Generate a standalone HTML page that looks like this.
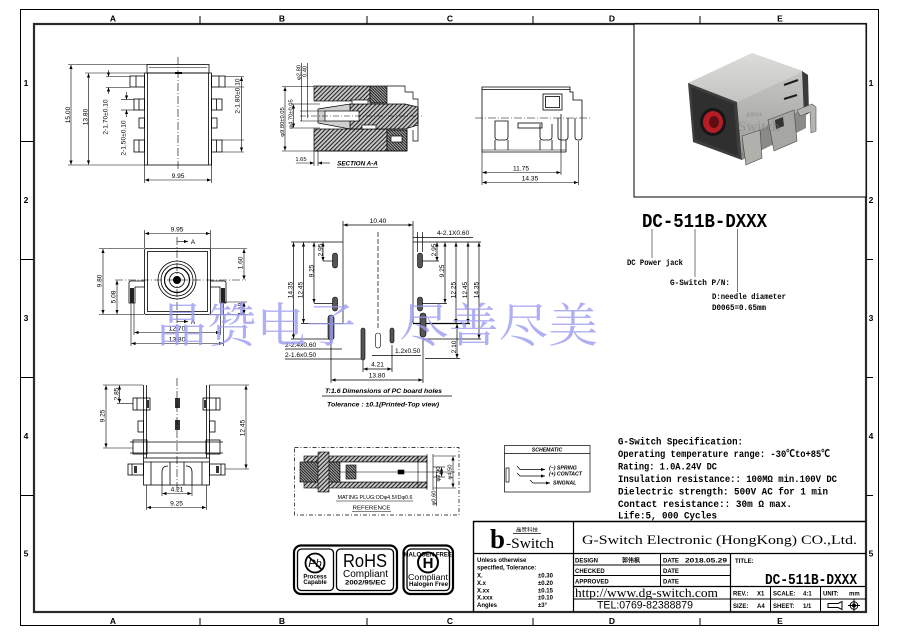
<!DOCTYPE html>
<html><head><meta charset="utf-8">
<style>
html,body{margin:0;padding:0;background:#fff;width:900px;height:636px;overflow:hidden}
svg{display:block}
.d{font-family:"Liberation Sans",sans-serif;font-size:6.6px;fill:#000}
.t{font-family:"Liberation Sans",sans-serif;font-size:5.8px;fill:#000}
.s{font-family:"Liberation Sans",sans-serif;font-size:6px;fill:#000;font-weight:bold}
.m{font-family:"Liberation Mono","Noto Sans CJK SC",monospace;font-weight:bold;fill:#000}
.b{font-family:"Liberation Sans",sans-serif;font-weight:bold;font-size:8.5px;fill:#000}
.i{font-family:"Liberation Sans",sans-serif;font-style:italic;font-weight:bold;fill:#000}
.w{font-family:"Noto Serif CJK SC","Noto Sans CJK SC",serif;font-size:47px;fill:#9c9cf2}
</style></head><body>
<svg width="900" height="636" viewBox="0 0 900 636" xmlns="http://www.w3.org/2000/svg">
<defs>
<marker id="ar" viewBox="0 0 10 10" refX="10" refY="5" markerWidth="5" markerHeight="4" orient="auto-start-reverse" markerUnits="userSpaceOnUse"><path d="M0,1 L10,5 L0,9z" fill="#000"/></marker>
<pattern id="h1" width="3" height="3" patternUnits="userSpaceOnUse" patternTransform="rotate(45)"><rect width="3" height="3" fill="#c8c8c8"/><line x1="0.5" y1="0" x2="0.5" y2="3" stroke="#222" stroke-width="1.1"/></pattern>
<pattern id="h2" width="2" height="2" patternUnits="userSpaceOnUse" patternTransform="rotate(-45)"><rect width="2" height="2" fill="#aaa"/><line x1="0.5" y1="0" x2="0.5" y2="2" stroke="#111" stroke-width="0.9"/></pattern>
<linearGradient id="gt" x1="0" y1="0" x2="0" y2="1"><stop offset="0" stop-color="#dcdcd8"/><stop offset="1" stop-color="#c4c4c0"/></linearGradient>
<linearGradient id="gr" x1="0" y1="0" x2="0" y2="1"><stop offset="0" stop-color="#c6c6c2"/><stop offset="1" stop-color="#9c9c98"/></linearGradient>
</defs>

<!-- ===== BORDER ===== -->
<rect x="20.5" y="9.5" width="858" height="616" fill="none" stroke="#000" stroke-width="1"/>
<rect x="34" y="24" width="832" height="588" fill="none" stroke="#2a2a2a" stroke-width="2.2"/>
<g stroke="#000" stroke-width="1">
<line x1="200" y1="16" x2="200" y2="24"/><line x1="367" y1="16" x2="367" y2="24"/><line x1="533" y1="16" x2="533" y2="24"/><line x1="700" y1="16" x2="700" y2="24"/>
<line x1="200" y1="618" x2="200" y2="626"/><line x1="367" y1="618" x2="367" y2="626"/><line x1="533" y1="618" x2="533" y2="626"/><line x1="700" y1="618" x2="700" y2="626"/>
<line x1="20" y1="141.5" x2="34" y2="141.5"/><line x1="20" y1="259.5" x2="34" y2="259.5"/><line x1="20" y1="377.5" x2="34" y2="377.5"/><line x1="20" y1="495.5" x2="34" y2="495.5"/>
<line x1="866" y1="141.5" x2="873" y2="141.5"/><line x1="866" y1="259.5" x2="873" y2="259.5"/><line x1="866" y1="377.5" x2="873" y2="377.5"/><line x1="866" y1="495.5" x2="873" y2="495.5"/>
</g>
<g class="b" text-anchor="middle">
<text x="113" y="21.5">A</text><text x="282" y="21.5">B</text><text x="450" y="21.5">C</text><text x="612" y="21.5">D</text><text x="780" y="21.5">E</text>
<text x="113" y="624">A</text><text x="282" y="624">B</text><text x="450" y="624">C</text><text x="612" y="624">D</text><text x="780" y="624">E</text>
<text x="26" y="86">1</text><text x="26" y="203">2</text><text x="26" y="321">3</text><text x="26" y="439">4</text><text x="26" y="556.5">5</text>
<text x="871" y="86">1</text><text x="871" y="203">2</text><text x="871" y="321">3</text><text x="871" y="439">4</text><text x="871" y="556.5">5</text>
</g>

<!-- ===== TOP-LEFT VIEW ===== -->
<g fill="none" stroke="#000" stroke-width="0.8">
<rect x="147" y="64.5" width="62" height="8.5"/>
<line x1="149" y1="67.5" x2="207" y2="67.5" stroke-width="0.5"/>
<rect x="144.5" y="73" width="67" height="92"/>
<line x1="147.5" y1="73" x2="147.5" y2="165"/>
<line x1="208.5" y1="73" x2="208.5" y2="165"/>
<rect x="130" y="76" width="14.5" height="11"/><line x1="136" y1="76" x2="136" y2="87"/>
<rect x="134" y="99" width="10.5" height="11"/><line x1="139" y1="99" x2="139" y2="110"/>
<rect x="139" y="118" width="5.5" height="10"/>
<rect x="134" y="140" width="10.5" height="12"/><line x1="139" y1="140" x2="139" y2="152"/>
<rect x="211.5" y="76" width="13.5" height="11"/><line x1="219" y1="76" x2="219" y2="87"/>
<rect x="211.5" y="99" width="10.5" height="11"/><line x1="216.5" y1="99" x2="216.5" y2="110"/>
<rect x="211.5" y="118" width="5.5" height="10"/>
<rect x="211.5" y="140" width="10.5" height="12"/><line x1="216.5" y1="140" x2="216.5" y2="152"/>
</g>
<rect x="175" y="72" width="7" height="2" fill="#000"/>
<line x1="178" y1="57" x2="178" y2="170" stroke="#000" stroke-width="0.6" stroke-dasharray="8 2 1 2"/>
<g stroke="#000" stroke-width="0.6" fill="none">
<line x1="68" y1="64.5" x2="147" y2="64.5"/>
<line x1="68" y1="165" x2="144" y2="165"/>
<line x1="71" y1="65" x2="71" y2="164.5" marker-start="url(#ar)" marker-end="url(#ar)"/>
<line x1="85" y1="73" x2="144" y2="73"/>
<line x1="88.5" y1="73.5" x2="88.5" y2="164.5" marker-start="url(#ar)" marker-end="url(#ar)"/>
<line x1="106" y1="76.5" x2="130" y2="76.5"/>
<line x1="106" y1="87.5" x2="130" y2="87.5"/>
<line x1="108.5" y1="70" x2="108.5" y2="76.5" marker-end="url(#ar)"/>
<line x1="108.5" y1="94" x2="108.5" y2="87.5" marker-end="url(#ar)"/>
<line x1="121" y1="99.5" x2="134" y2="99.5"/>
<line x1="121" y1="110" x2="134" y2="110"/>
<line x1="126.5" y1="92" x2="126.5" y2="99.5" marker-end="url(#ar)"/>
<line x1="126.5" y1="117" x2="126.5" y2="110" marker-end="url(#ar)"/>
<line x1="225" y1="76.5" x2="244" y2="76.5"/>
<line x1="225" y1="87" x2="244" y2="87"/>
<line x1="222" y1="140" x2="244" y2="140"/>
<line x1="222" y1="152" x2="244" y2="152"/>
<line x1="241.5" y1="77" x2="241.5" y2="151.5" marker-start="url(#ar)" marker-end="url(#ar)"/>
<line x1="144.5" y1="165" x2="144.5" y2="183"/>
<line x1="211.5" y1="152" x2="211.5" y2="183"/>
<line x1="145" y1="180" x2="211" y2="180" marker-start="url(#ar)" marker-end="url(#ar)"/>
</g>
<g class="d" text-anchor="middle">
<text transform="translate(70,115) rotate(-90)">15.00</text>
<text transform="translate(87.5,117) rotate(-90)">13.80</text>
<text transform="translate(107.5,117) rotate(-90)">2-1.70±0.10</text>
<text transform="translate(125.5,138) rotate(-90)">2-1.50±0.10</text>
<text transform="translate(239.5,96) rotate(-90)">2-1.80±0.10</text>
<text x="178" y="178">9.95</text>
</g>

<!-- ===== SECTION A-A ===== -->
<g stroke="#000" stroke-width="0.7">
<rect x="314" y="86" width="56" height="15" fill="url(#h1)"/>
<rect x="370" y="86" width="17" height="17" fill="url(#h2)"/>
<path d="M387,86 L405,86 L405,92" fill="none"/>
<rect x="314" y="129" width="73" height="22" fill="url(#h1)"/>
<rect x="387" y="130" width="20" height="21" fill="url(#h2)"/>
<rect x="391" y="136" width="11" height="6" fill="#fff"/>
<polygon points="350,104 405,104 418,107 418,125 405,129 350,129" fill="url(#h1)"/>
<polygon points="318,109 350,104 350,129 318,123" fill="#d0d0d0"/>
<rect x="325" y="111" width="34" height="10" fill="#fff"/>
<rect x="352" y="100" width="16" height="4" fill="#fff"/>
<rect x="362" y="125" width="14" height="4" fill="#fff"/>
<path d="M405,92 L413,92 L413,99 L418,99 L418,141 L413,141 L413,130" fill="none"/>
<line x1="314" y1="151" x2="407" y2="151"/>
<line x1="407" y1="129" x2="407" y2="151"/>
</g>
<line x1="300" y1="116" x2="422" y2="116" stroke="#000" stroke-width="0.5" stroke-dasharray="6 2 1 2"/>
<g stroke="#000" stroke-width="0.6" fill="none">
<line x1="282" y1="86.5" x2="314" y2="86.5"/>
<line x1="282" y1="151" x2="314" y2="151"/>
<line x1="285" y1="87" x2="285" y2="150.5" marker-start="url(#ar)" marker-end="url(#ar)"/>
<line x1="291" y1="104" x2="320" y2="104"/>
<line x1="291" y1="128" x2="320" y2="128"/>
<line x1="293.5" y1="104.5" x2="293.5" y2="127.5" marker-start="url(#ar)" marker-end="url(#ar)"/>
<line x1="301.5" y1="63" x2="301.5" y2="121"/>
<line x1="307.5" y1="63" x2="307.5" y2="118"/>
<line x1="300" y1="111" x2="326" y2="111"/>
<line x1="300" y1="121" x2="326" y2="121"/>
<line x1="314" y1="151" x2="314" y2="166"/>
<line x1="318" y1="151" x2="318" y2="166"/>
<line x1="296" y1="163" x2="314" y2="163" marker-end="url(#ar)"/>
<line x1="330" y1="163" x2="318" y2="163" marker-end="url(#ar)"/>
<line x1="337" y1="167.5" x2="378" y2="167.5"/>
</g>
<g class="t" text-anchor="middle">
<text transform="translate(284,122) rotate(-90)">φ9.80±0.05</text>
<text transform="translate(292.5,114) rotate(-90)">φ4.70±0.05</text>
<text transform="translate(300.5,72.5) rotate(-90)">φ2.80</text>
<text transform="translate(306.5,71.5) rotate(-90)">0.40</text>
<text x="301" y="161">1.65</text>
</g>
<text class="i" x="357.5" y="165.5" font-size="6.3" text-anchor="middle">SECTION A-A</text>

<!-- ===== RIGHT SIDE VIEW ===== -->
<g fill="none" stroke="#000" stroke-width="0.8">
<path d="M482,152 L482,87 L570,87 L570,92 L573,92 L573,100 L582,100 L582,118"/>
<line x1="482" y1="89.5" x2="570" y2="89.5"/>
<line x1="482" y1="152" x2="566" y2="152"/>
<line x1="482" y1="150" x2="566" y2="150" stroke-width="0.5"/>
<rect x="543" y="94" width="19" height="16"/>
<rect x="545.5" y="96.5" width="14" height="11"/>
<path d="M495,121 L495,137 Q495,140 498,140 L505,140 Q508,140 508,137 L508,121 Z"/>
<path d="M540,124 L540,137 Q540,140 543,140 L549,140 Q552,140 552,137 L552,124"/>
<path d="M558,118 L558,137 Q558,140 561,140 L565,140 Q568,140 568,137 L568,118"/>
<path d="M575,118 L575,137 Q575,140 578,140 L579,140 Q582,140 582,137 L582,118"/>
<rect x="518" y="123" width="24" height="5"/>
<line x1="561" y1="114" x2="561" y2="152"/>
<line x1="495" y1="140" x2="495" y2="150"/><line x1="508" y1="140" x2="508" y2="150"/>
<line x1="540" y1="140" x2="540" y2="150"/><line x1="552" y1="140" x2="552" y2="150"/>
<line x1="566" y1="140" x2="566" y2="152"/>
</g>
<line x1="475" y1="118" x2="590" y2="118" stroke="#000" stroke-width="0.6" stroke-dasharray="8 2 1 2"/>
<g stroke="#000" stroke-width="0.6" fill="none">
<line x1="482" y1="152" x2="482" y2="185"/>
<line x1="561" y1="152" x2="561" y2="175"/>
<line x1="578.5" y1="141" x2="578.5" y2="185"/>
<line x1="482.5" y1="172.5" x2="560.5" y2="172.5" marker-start="url(#ar)" marker-end="url(#ar)"/>
<line x1="482.5" y1="182.5" x2="578" y2="182.5" marker-start="url(#ar)" marker-end="url(#ar)"/>
</g>
<g class="d" text-anchor="middle"><text x="521" y="170.5">11.75</text><text x="530" y="180.5">14.35</text></g>

<!-- ===== PHOTO BOX ===== -->
<rect x="634" y="24" width="232" height="173" fill="#fff" stroke="#000" stroke-width="1"/>
<g>
<polygon points="688,83 752,53 803,71 737,102" fill="url(#gt)"/>
<polygon points="737,102 803,71 806,128 742,160" fill="url(#gr)"/>
<polygon points="688,83 737,102 742,160 693,142" fill="#3e3e3e"/>
<polygon points="691,87 734,104 738,156 695,139" fill="#2f2f2f"/>
<ellipse cx="713" cy="122" rx="13" ry="14" fill="#161616"/>
<ellipse cx="713" cy="122" rx="10" ry="11" fill="#b61c26"/>
<ellipse cx="714" cy="122" rx="5" ry="6" fill="#5c0e12"/>
<line x1="784" y1="85" x2="798" y2="80" stroke="#1e1e1e" stroke-width="2.2"/>
<line x1="784" y1="99" x2="797" y2="95" stroke="#1e1e1e" stroke-width="2.2"/>
<polygon points="802,71 808,75 809,113 804,116" fill="#3a3a3a"/>
<polygon points="742,138 806,108 806,128 742,160" fill="#8a8a86"/>
<path d="M797,110 L812,104 L816,107 L816,131 L811,133 L810,112 L800,116z" fill="#b4b4b0" stroke="#555" stroke-width="0.6"/>
<polygon points="768,120 794,110 797,141 774,151" fill="#a6a6a2" stroke="#444" stroke-width="0.6"/>
<polygon points="775,120 783,117 784,126 776,129" fill="#333"/>
<polygon points="742,136 760,130 762,158 746,165" fill="#b0b0ac" stroke="#444" stroke-width="0.6"/>
<text x="738" y="131" font-family="Liberation Serif" font-size="15" fill="#777" opacity="0.45">Switch</text>
<text x="746" y="116" font-family="Noto Sans CJK SC" font-size="4" fill="#777" opacity="0.6">晶赞科技</text>
</g>

<!-- ===== PART NUMBER ===== -->
<text class="m" x="642" y="227" font-size="19" textLength="125" lengthAdjust="spacingAndGlyphs">DC-511B-DXXX</text>
<g stroke="#555" stroke-width="0.8">
<line x1="652" y1="229" x2="652" y2="258"/>
<line x1="695" y1="229" x2="695" y2="277"/>
<line x1="737.5" y1="229" x2="737.5" y2="292"/>
</g>
<g class="m" font-size="8">
<text x="627" y="265" textLength="56" lengthAdjust="spacingAndGlyphs">DC Power jack</text>
<text x="670" y="285" textLength="60" lengthAdjust="spacingAndGlyphs">G-Switch P/N:</text>
<text x="712" y="299" textLength="74" lengthAdjust="spacingAndGlyphs">D:needle diameter</text>
<text x="712" y="310" textLength="54" lengthAdjust="spacingAndGlyphs">D0065=0.65mm</text>
</g>

<!-- ===== FRONT VIEW ===== -->
<g fill="none" stroke="#000" stroke-width="0.8">
<rect x="144.5" y="248.5" width="66" height="66" rx="1.5"/>
<rect x="147.5" y="251.5" width="60" height="60"/>
<circle cx="177" cy="280" r="19"/>
<circle cx="177" cy="280" r="16"/>
<circle cx="177" cy="280" r="12.5" stroke-width="1.2"/>
<circle cx="177" cy="280" r="7.5"/>
<path d="M145,281 L131,281 Q129,281 129,283 L129,303 L135,303 L135,287 L145,287"/>
<path d="M210,281 L224,281 Q226,281 226,283 L226,303 L220,303 L220,287 L210,287"/>
</g>
<circle cx="177" cy="280" r="4" fill="#000"/>
<rect x="130" y="288" width="4" height="15" fill="#222"/>
<rect x="221" y="288" width="4" height="15" fill="#222"/>
<g stroke="#000" stroke-width="0.6" fill="none">
<line x1="115" y1="280" x2="246" y2="280" stroke-dasharray="8 2 1 2"/>
<line x1="177" y1="237" x2="177" y2="326" stroke-dasharray="8 2 1 2"/>
<line x1="177" y1="241.5" x2="188" y2="241.5" marker-end="url(#ar)"/>
<line x1="177" y1="321.5" x2="188" y2="321.5" marker-end="url(#ar)"/>
<line x1="144.5" y1="230" x2="144.5" y2="248"/>
<line x1="210.5" y1="230" x2="210.5" y2="248"/>
<line x1="145" y1="233.5" x2="210" y2="233.5" marker-start="url(#ar)" marker-end="url(#ar)"/>
<line x1="99" y1="248.5" x2="144" y2="248.5"/>
<line x1="99" y1="314.5" x2="144" y2="314.5"/>
<line x1="103" y1="249" x2="103" y2="314" marker-start="url(#ar)" marker-end="url(#ar)"/>
<line x1="117" y1="280.5" x2="117" y2="314" marker-start="url(#ar)" marker-end="url(#ar)"/>
<line x1="210" y1="248.5" x2="247" y2="248.5"/>
<line x1="224" y1="302" x2="247" y2="302"/>
<line x1="210" y1="314.5" x2="247" y2="314.5"/>
<line x1="244" y1="249" x2="244" y2="279.5" marker-start="url(#ar)" marker-end="url(#ar)"/>
<line x1="244" y1="302.5" x2="244" y2="314" marker-start="url(#ar)" marker-end="url(#ar)"/>
<line x1="134" y1="303" x2="134" y2="335"/>
<line x1="220.5" y1="303" x2="220.5" y2="335"/>
<line x1="131" y1="303" x2="131" y2="346"/>
<line x1="223.5" y1="303" x2="223.5" y2="346"/>
<line x1="134.5" y1="332.5" x2="220" y2="332.5" marker-start="url(#ar)" marker-end="url(#ar)"/>
<line x1="131.5" y1="343.5" x2="223" y2="343.5" marker-start="url(#ar)" marker-end="url(#ar)"/>
</g>
<g class="d" text-anchor="middle">
<text x="177" y="231.5">9.95</text>
<text x="193" y="244">A</text>
<text x="193" y="324">A</text>
<text transform="translate(101.5,281) rotate(-90)">9.80</text>
<text transform="translate(115.5,297) rotate(-90)">5.08</text>
<text transform="translate(242.5,263) rotate(-90)">1.60</text>
<text transform="translate(242.5,309) rotate(-90)">1.18</text>
<text x="177" y="330.5">12.70</text>
<text x="177" y="341.5">13.80</text>
</g>

<!-- ===== PCB LAYOUT ===== -->
<g fill="none" stroke="#000" stroke-width="0.7">
<line x1="343" y1="221" x2="343" y2="323"/>
<line x1="413" y1="221" x2="413" y2="323"/>
<line x1="291" y1="242" x2="343" y2="242"/>
<line x1="413" y1="242" x2="481" y2="242"/>
<line x1="301" y1="323.5" x2="343" y2="323.5"/>
<line x1="413" y1="323.5" x2="470" y2="323.5" stroke-width="1.2"/>
<line x1="343.5" y1="225" x2="412.5" y2="225" marker-start="url(#ar)" marker-end="url(#ar)"/>
<line x1="378" y1="232" x2="378" y2="330" stroke-dasharray="5 2"/>
<line x1="413" y1="237.5" x2="473" y2="237.5"/>
<line x1="417.5" y1="232" x2="417.5" y2="252"/>
<line x1="422.5" y1="232" x2="422.5" y2="252"/>
<line x1="293.5" y1="242.5" x2="293.5" y2="338.5" marker-start="url(#ar)" marker-end="url(#ar)"/>
<line x1="291" y1="339" x2="331" y2="339"/>
<line x1="303.5" y1="242.5" x2="303.5" y2="323" marker-start="url(#ar)" marker-end="url(#ar)"/>
<line x1="314" y1="242.5" x2="314" y2="303" marker-start="url(#ar)" marker-end="url(#ar)"/>
<line x1="314" y1="303.5" x2="338" y2="303.5"/>
<line x1="323" y1="242.5" x2="323" y2="261" marker-start="url(#ar)" marker-end="url(#ar)"/>
<line x1="323" y1="261" x2="338" y2="261"/>
<line x1="418" y1="261" x2="439" y2="261"/>
<line x1="437" y1="242.5" x2="437" y2="261" marker-start="url(#ar)" marker-end="url(#ar)"/>
<line x1="418" y1="303.5" x2="447" y2="303.5"/>
<line x1="445" y1="242.5" x2="445" y2="303" marker-start="url(#ar)" marker-end="url(#ar)"/>
<line x1="456" y1="242.5" x2="456" y2="323" marker-start="url(#ar)" marker-end="url(#ar)"/>
<line x1="468" y1="242.5" x2="468" y2="323" marker-start="url(#ar)" marker-end="url(#ar)"/>
<line x1="423" y1="339" x2="481" y2="339"/>
<line x1="479" y1="242.5" x2="479" y2="338.5" marker-start="url(#ar)" marker-end="url(#ar)"/>
<line x1="285" y1="349" x2="342" y2="349"/>
<line x1="285" y1="359" x2="361" y2="359"/>
<line x1="372" y1="355.5" x2="421" y2="355.5"/>
<line x1="457" y1="324" x2="457" y2="358" marker-start="url(#ar)" marker-end="url(#ar)"/>
<line x1="425" y1="358.5" x2="460" y2="358.5"/>
<line x1="363" y1="345" x2="363" y2="372"/>
<line x1="392" y1="345" x2="392" y2="372"/>
<line x1="363.5" y1="369" x2="391.5" y2="369" marker-start="url(#ar)" marker-end="url(#ar)"/>
<line x1="331" y1="340" x2="331" y2="383"/>
<line x1="423" y1="338" x2="423" y2="383"/>
<line x1="331.5" y1="380" x2="422.5" y2="380" marker-start="url(#ar)" marker-end="url(#ar)"/>
</g>
<g fill="#555" stroke="#000" stroke-width="0.6">
<rect x="332.5" y="253" width="5" height="15" rx="2.5"/>
<rect x="332.5" y="297" width="5" height="14" rx="2.5"/>
<rect x="417.5" y="253" width="5" height="15" rx="2.5"/>
<rect x="417.5" y="297" width="5" height="14" rx="2.5"/>
<rect x="328" y="315" width="6" height="25" rx="3"/>
<rect x="420" y="313" width="6" height="24" rx="3"/>
<rect x="361" y="328" width="4" height="32" rx="2"/>
<rect x="375.5" y="333" width="5" height="15" rx="2.5" fill="#fff"/>
<rect x="390" y="328" width="4" height="15" rx="2"/>
</g>
<g class="d" text-anchor="middle">
<text x="378" y="223">10.40</text>
<text transform="translate(292.5,290) rotate(-90)">14.35</text>
<text transform="translate(302.5,290) rotate(-90)">12.45</text>
<text transform="translate(313.5,271) rotate(-90)">9.25</text>
<text transform="translate(322.5,250) rotate(-90)">2.95</text>
<text transform="translate(436,250) rotate(-90)">2.95</text>
<text transform="translate(444,271) rotate(-90)">9.25</text>
<text transform="translate(455.5,290) rotate(-90)">12.25</text>
<text transform="translate(467,290) rotate(-90)">12.45</text>
<text transform="translate(478.5,290) rotate(-90)">14.35</text>
<text transform="translate(456,347) rotate(-90)">2.10</text>
<text x="377.5" y="366.5">4.21</text>
<text x="377" y="377.5">13.80</text>
</g>
<g class="d">
<text x="437" y="235">4-2.1X0.60</text>
<text x="285" y="347">2-2.4x0.60</text>
<text x="285" y="357">2-1.6x0.50</text>
<text x="395" y="353">1.2x0.50</text>
</g>
<text class="i" x="325" y="393" font-size="6.4" textLength="117" lengthAdjust="spacingAndGlyphs">T:1.6 Dimensions of PC board holes</text>
<line x1="322" y1="396" x2="452" y2="396" stroke="#000" stroke-width="0.8"/>
<text class="i" x="327" y="406.5" font-size="6.4" textLength="112" lengthAdjust="spacingAndGlyphs">Tolerance : ±0.1(Printed-Top view)</text>

<!-- ===== BOTTOM VIEW ===== -->
<g fill="none" stroke="#000" stroke-width="0.8">
<line x1="143.5" y1="385" x2="143.5" y2="458"/>
<line x1="146.5" y1="385" x2="146.5" y2="458"/>
<line x1="206.5" y1="385" x2="206.5" y2="458"/>
<line x1="209.5" y1="385" x2="209.5" y2="458"/>
<rect x="133" y="398" width="17" height="12"/>
<rect x="203" y="398" width="17" height="12"/>
<line x1="137" y1="398" x2="137" y2="410"/><line x1="216" y1="398" x2="216" y2="410"/>
<rect x="138" y="421" width="5.5" height="11"/>
<rect x="209.5" y="421" width="5.5" height="11"/>
<line x1="130" y1="442" x2="223" y2="442"/>
<line x1="130" y1="453" x2="223" y2="453"/>
<rect x="133" y="440" width="14" height="14"/>
<rect x="206" y="440" width="14" height="14"/>
<rect x="143.5" y="458" width="66" height="27"/>
<line x1="143.5" y1="462" x2="209.5" y2="462"/>
<rect x="128" y="464" width="15.5" height="11"/>
<rect x="209.5" y="464" width="15.5" height="11"/>
<line x1="132" y1="464" x2="132" y2="475"/><line x1="221" y1="464" x2="221" y2="475"/>
<line x1="151" y1="462" x2="151" y2="485"/>
<line x1="202" y1="462" x2="202" y2="485"/>
<path d="M162,485 L162,472 Q162,466 168,466"/>
<path d="M192,485 L192,472 Q192,466 186,466"/>
<line x1="170" y1="462" x2="170" y2="485"/>
<line x1="184" y1="462" x2="184" y2="485"/>
</g>
<g fill="#333">
<rect x="175" y="398" width="5" height="10"/>
<rect x="175" y="420" width="5" height="10"/>
<rect x="146" y="400" width="3" height="8"/>
<rect x="204" y="400" width="3" height="8"/>
<rect x="134" y="466" width="3" height="7"/>
<rect x="216" y="466" width="3" height="7"/>
</g>
<line x1="177" y1="378" x2="177" y2="490" stroke="#000" stroke-width="0.6" stroke-dasharray="8 2 1 2"/>
<g stroke="#000" stroke-width="0.6" fill="none">
<line x1="103" y1="385" x2="143" y2="385"/>
<line x1="103" y1="448" x2="133" y2="448"/>
<line x1="106" y1="385.5" x2="106" y2="447.5" marker-start="url(#ar)" marker-end="url(#ar)"/>
<line x1="117" y1="403.5" x2="133" y2="403.5"/>
<line x1="119.5" y1="385.5" x2="119.5" y2="403" marker-start="url(#ar)" marker-end="url(#ar)"/>
<line x1="209" y1="385" x2="249" y2="385"/>
<line x1="225" y1="469" x2="249" y2="469"/>
<line x1="246" y1="385.5" x2="246" y2="468.5" marker-start="url(#ar)" marker-end="url(#ar)"/>
<line x1="162" y1="485" x2="162" y2="496"/>
<line x1="192" y1="485" x2="192" y2="496"/>
<line x1="162.5" y1="493.5" x2="191.5" y2="493.5" marker-start="url(#ar)" marker-end="url(#ar)"/>
<line x1="146.5" y1="485" x2="146.5" y2="510"/>
<line x1="206.5" y1="485" x2="206.5" y2="510"/>
<line x1="147" y1="507.5" x2="206" y2="507.5" marker-start="url(#ar)" marker-end="url(#ar)"/>
</g>
<g class="d" text-anchor="middle">
<text transform="translate(118.5,394) rotate(-90)">2.85</text>
<text transform="translate(104.5,416) rotate(-90)">9.25</text>
<text transform="translate(244.5,428) rotate(-90)">12.45</text>
<text x="177" y="491.5">4.21</text>
<text x="176.5" y="505.5">9.25</text>
</g>

<!-- ===== MATING PLUG ===== -->
<rect x="294.5" y="447.5" width="164.5" height="67.5" fill="none" stroke="#000" stroke-width="0.7" stroke-dasharray="4 2 1 2"/>
<g stroke="#000" stroke-width="0.6">
<rect x="304" y="456" width="123" height="6" fill="url(#h1)"/>
<rect x="304" y="482" width="123" height="6" fill="url(#h1)"/>
<rect x="300" y="462" width="40" height="20" fill="url(#h2)"/>
<rect x="318" y="452" width="11" height="40" fill="url(#h1)"/>
<rect x="340" y="462" width="87" height="20" fill="#fff"/>
<rect x="346" y="465" width="10" height="14" fill="url(#h2)"/>
<line x1="340" y1="472" x2="455" y2="472"/>
<rect x="398" y="470" width="6" height="4" fill="#000"/>
<line x1="418" y1="456" x2="418" y2="488" fill="none"/>
<line x1="427" y1="454" x2="427" y2="490" fill="none"/>
<line x1="433" y1="454" x2="433" y2="490" fill="none"/>
</g>
<g stroke="#000" stroke-width="0.6" fill="none">
<line x1="433" y1="467" x2="445" y2="467"/>
<line x1="433" y1="477" x2="445" y2="477"/>
<line x1="433" y1="456" x2="456" y2="456"/>
<line x1="433" y1="488" x2="456" y2="488"/>
<line x1="441.5" y1="467.5" x2="441.5" y2="476.5" marker-start="url(#ar)" marker-end="url(#ar)"/>
<line x1="453" y1="456.5" x2="453" y2="487.5" marker-start="url(#ar)" marker-end="url(#ar)"/>
<line x1="436.5" y1="472" x2="436.5" y2="506"/>
<line x1="336" y1="501" x2="413" y2="501"/>
<line x1="352" y1="511.5" x2="391" y2="511.5"/>
</g>
<g class="t" text-anchor="middle">
<text transform="translate(440,474) rotate(-90)">φ2.90</text>
<text transform="translate(451.5,472) rotate(-90)">φ4.50</text>
<text transform="translate(435.5,498) rotate(-90)">φ0.60</text>
<text x="375" y="499" font-size="5.4" textLength="75" lengthAdjust="spacingAndGlyphs">MATING PLUG:ODφ4.5/IDφ0.6</text>
<text x="371.5" y="509.5" font-size="5.4" textLength="38" lengthAdjust="spacingAndGlyphs">REFERENCE</text>
</g>

<!-- ===== SCHEMATIC ===== -->
<g fill="none" stroke="#000" stroke-width="0.7">
<rect x="504.5" y="445.5" width="85.5" height="46.5"/>
<line x1="504.5" y1="453.5" x2="590" y2="453.5"/>
<rect x="506" y="468" width="3" height="14"/>
<path d="M517,466 L520,469.5 L545,469.5" marker-end="url(#ar)"/>
<path d="M517,473 L520,476 L545,476" marker-end="url(#ar)"/>
<path d="M530,480 L533,483 L550,483" marker-end="url(#ar)"/>
</g>
<g class="i" font-size="5.2">
<text x="547" y="451.5" text-anchor="middle">SCHEMATIC</text>
<text x="549" y="469.5">(−) SPRING</text>
<text x="549" y="475.5">(+) CONTACT</text>
<text x="553" y="484.5">SINGNAL</text>
</g>

<!-- ===== SPEC TEXT ===== -->
<g class="m" font-size="10.2">
<text x="618" y="444.5" textLength="125" lengthAdjust="spacingAndGlyphs">G-Switch Specification:</text>
<text x="618" y="457" textLength="212" lengthAdjust="spacingAndGlyphs">Operating temperature range: -30℃to+85℃</text>
<text x="618" y="469.5" textLength="99" lengthAdjust="spacingAndGlyphs">Rating: 1.0A.24V DC</text>
<text x="618" y="482" textLength="219" lengthAdjust="spacingAndGlyphs">Insulation resistance:: 100MΩ min.100V DC</text>
<text x="618" y="494.5" textLength="210" lengthAdjust="spacingAndGlyphs">Dielectric strength:  500V AC for 1 min</text>
<text x="618" y="507" textLength="174" lengthAdjust="spacingAndGlyphs">Contact resistance:: 30m Ω max.</text>
<text x="618" y="518.5" textLength="99" lengthAdjust="spacingAndGlyphs">Life:5, 000 Cycles</text>
</g>

<!-- ===== LOGOS ===== -->
<g fill="none" stroke="#000">
<rect x="294" y="545.5" width="103" height="48.5" rx="7" stroke-width="2.2"/>
<rect x="297.5" y="549" width="36" height="41.5" rx="4" stroke-width="1.3"/>
<rect x="336.5" y="549" width="57" height="41.5" rx="4" stroke-width="1.3"/>
<circle cx="315" cy="563" r="9.5" stroke-width="1.8"/>
<line x1="308.5" y1="556.5" x2="321.5" y2="569.5" stroke-width="1.6"/>
<rect x="403.5" y="545.5" width="49.5" height="48.5" rx="7" stroke-width="2.2"/>
<rect x="407" y="549" width="42.5" height="41.5" rx="4" stroke-width="1.3"/>
<circle cx="428" cy="562.5" r="10" stroke-width="2"/>
</g>
<text x="315" y="567" font-family="Liberation Sans" font-size="11" font-style="italic" text-anchor="middle" fill="#000">Pb</text>
<text x="315" y="578.5" class="s" font-size="5" text-anchor="middle">Process</text>
<text x="315" y="584" class="s" font-size="5" text-anchor="middle">Capable</text>
<text x="343" y="567" font-family="Liberation Sans" font-size="18" fill="#000" textLength="44" lengthAdjust="spacingAndGlyphs">RoHS</text>
<text x="343" y="577" font-family="Liberation Sans" font-size="10" fill="#000" textLength="45" lengthAdjust="spacingAndGlyphs">Compliant</text>
<text x="345" y="584.5" class="s" font-size="6.5" textLength="41" lengthAdjust="spacingAndGlyphs">2002/95/EC</text>
<text x="428" y="568" font-family="Liberation Sans" font-weight="bold" font-size="15" text-anchor="middle" fill="#000">H</text>
<text x="428" y="556.5" class="s" font-size="2.5" text-anchor="middle">HALOGEN FREE</text>
<text x="408" y="580" font-family="Liberation Sans" font-size="8" fill="#000" textLength="40" lengthAdjust="spacingAndGlyphs">Compliant</text>
<text x="409" y="586" class="s" font-size="5" textLength="39" lengthAdjust="spacingAndGlyphs">Halogen Free</text>

<!-- ===== TITLE BLOCK ===== -->
<g stroke="#000" fill="none">
<line x1="473" y1="521.5" x2="866" y2="521.5" stroke-width="1.6"/>
<line x1="473.5" y1="521" x2="473.5" y2="612" stroke-width="1.4"/>
<line x1="573.5" y1="521" x2="573.5" y2="612" stroke-width="1.2"/>
<line x1="473" y1="553.5" x2="866" y2="553.5" stroke-width="1.2"/>
<line x1="573" y1="565" x2="730" y2="565" stroke-width="1"/>
<line x1="573" y1="575.5" x2="730" y2="575.5" stroke-width="1"/>
<line x1="573" y1="586.5" x2="866" y2="586.5" stroke-width="1.2"/>
<line x1="573" y1="599" x2="866" y2="599" stroke-width="1"/>
<line x1="660.5" y1="553" x2="660.5" y2="586.5" stroke-width="1"/>
<line x1="730.5" y1="553" x2="730.5" y2="612" stroke-width="1.2"/>
<line x1="770.5" y1="586.5" x2="770.5" y2="612" stroke-width="1"/>
<line x1="820.5" y1="586.5" x2="820.5" y2="612" stroke-width="1"/>
</g>
<text x="490" y="548" font-family="Liberation Serif" font-weight="bold" font-size="27" fill="#000">b</text>
<text x="506" y="548" font-family="Liberation Serif" font-size="15" fill="#000" textLength="48" lengthAdjust="spacingAndGlyphs">-Switch</text>
<text x="516" y="531.5" font-family="Noto Sans CJK SC" font-size="5" fill="#000" textLength="22" lengthAdjust="spacingAndGlyphs">晶赞科技</text>
<line x1="513" y1="533.5" x2="541" y2="533.5" stroke="#000" stroke-width="0.7"/>
<text x="582" y="544" font-family="Liberation Serif" font-size="13" fill="#000" textLength="275" lengthAdjust="spacingAndGlyphs">G-Switch Electronic (HongKong) CO.,Ltd.</text>
<g class="s" font-size="5.6">
<text x="477" y="562">Unless otherwise</text>
<text x="477" y="569.5">specified, Tolerance:</text>
<text x="477" y="577.5">X.</text><text x="538" y="577.5">±0.30</text>
<text x="477" y="585">X.x</text><text x="538" y="585">±0.20</text>
<text x="477" y="592.5">X.xx</text><text x="538" y="592.5">±0.15</text>
<text x="477" y="599.5">X.xxx</text><text x="538" y="599.5">±0.10</text>
<text x="477" y="607">Angles</text><text x="538" y="607">±3°</text>
<text x="575" y="562.5">DESIGN</text>
<text x="575" y="573">CHECKED</text>
<text x="575" y="583.5">APPROVED</text>
<text x="663" y="562.5">DATE</text><text x="685" y="562.5" textLength="42" lengthAdjust="spacingAndGlyphs">2018.05.29</text>
<text x="663" y="573">DATE</text>
<text x="663" y="583.5">DATE</text>
<text x="735" y="563">TITLE:</text>
<text x="733" y="595.5">REV.:</text><text x="757" y="595.5">X1</text>
<text x="773" y="595.5">SCALE:</text><text x="803" y="595.5">4:1</text>
<text x="823" y="595.5">UNIT:</text><text x="849" y="595.5">mm</text>
<text x="733" y="608">SIZE:</text><text x="757" y="608">A4</text>
<text x="773" y="608">SHEET:</text><text x="803" y="608">1/1</text>
</g>
<text x="622" y="562.5" font-family="Noto Sans CJK SC" font-weight="bold" font-size="6" fill="#000">郭伟枫</text>
<text class="m" x="765" y="584" font-size="15" textLength="92" lengthAdjust="spacingAndGlyphs">DC-511B-DXXX</text>
<text x="575" y="597" font-family="Liberation Serif" font-size="12.5" fill="#000" textLength="143" lengthAdjust="spacingAndGlyphs">http://www.dg-switch.com</text>
<text x="597" y="608.5" font-family="Liberation Sans" font-size="11" fill="#000" textLength="96" lengthAdjust="spacingAndGlyphs">TEL:0769-82388879</text>
<g stroke="#000" stroke-width="1" fill="none">
<path d="M828,603.5 L838,603.5 L842,601.5 L842,609.5 L838,607.5 L828,607.5 Z"/>
<circle cx="854" cy="605.5" r="3.8"/>
<line x1="848" y1="605.5" x2="860" y2="605.5"/>
<line x1="854" y1="599.5" x2="854" y2="611.5"/>
</g>
<circle cx="854" cy="605.5" r="2" fill="#000"/>

<!-- ===== WATERMARK ===== -->
<g opacity="0.8">
<text class="w" x="157" y="342" textLength="199" lengthAdjust="spacingAndGlyphs">晶赞电子</text>
<text class="w" x="399" y="342" textLength="199" lengthAdjust="spacingAndGlyphs">尽善尽美</text>
</g>
</svg>
</body></html>
